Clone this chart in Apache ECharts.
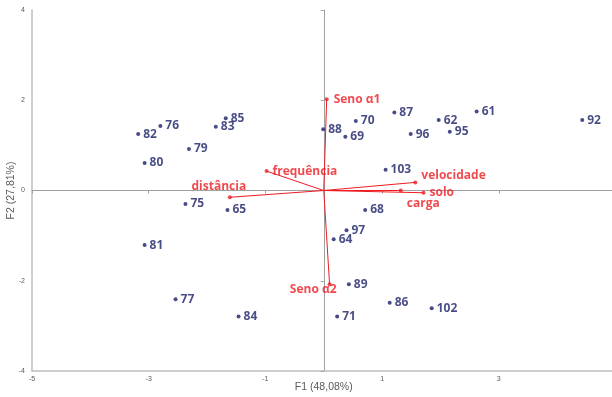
<!DOCTYPE html>
<html>
<head>
<meta charset="utf-8">
<script src="https://cdn.jsdelivr.net/npm/echarts@6/dist/echarts.min.js"></script>
<style>
  html, body { margin: 0; padding: 0; background: #fff; }
  #chart { width: 612px; height: 397px; }
</style>
</head>
<body>
<div id="chart"></div>
<script>
// Observations (factor scores on F1 / F2)
const obsNames = ['61','62','64','65','68','69','70','71','75','76','77','79','80','81',
                  '82','83','84','85','86','87','88','89','92','95','96','97','102','103'];
const obsF1 = [2.62, 1.97, 0.17, -1.65, 0.71, 0.37, 0.55, 0.23, -2.37, -2.80, -2.54, -2.31, -3.07, -3.07,
               -3.18, -1.85, -1.46, -1.68, 1.13, 1.21, -0.01, 0.43, 4.43, 2.16, 1.49, 0.39, 1.85, 1.06];
const obsF2 = [1.75, 1.56, -1.08, -0.43, -0.43, 1.19, 1.54, -2.79, -0.30, 1.43, -2.41, 0.92, 0.61, -1.21,
               1.25, 1.41, -2.79, 1.60, -2.49, 1.73, 1.36, -2.08, 1.56, 1.30, 1.25, -0.88, -2.61, 0.46];

// Variables (loading vectors)
const varNames = ['Seno α1', 'Seno α2', 'distância', 'frequência', 'velocidade', 'solo', 'carga'];
const varF1 = [0.05, 0.10, -1.61, -0.98, 1.57, 1.71, 1.32];
const varF2 = [2.02, -2.08, -0.15, 0.43, 0.18, -0.05, 0.00];

// Axis ticks and tick labels
const xTicks = [-5, -3, -1, 1, 3, 5];
const xTickLabels = [-5, -3, -1, 1, 3];
const yTicks = [-4, -2, 0, 2, 4];

const NAVY = '#1a1f66';
const RED = '#ee1c22';
const FONT = '"Open Sans", "Noto Sans", sans-serif';

// label placement for each variable name
const varLabel = {
  'Seno α1':    { position: 'right', distance: 5 },
  'Seno α2':    { position: 'left', distance: 0, offset: [9, 5] },
  'distância':  { position: 'top', distance: 3, offset: [-11, 0] },
  'frequência': { position: 'right', distance: 4 },
  'velocidade': { position: 'right', distance: 4, offset: [0, -7] },
  'solo':       { position: 'right', distance: 4 },
  'carga':      { position: 'right', distance: 4, offset: [0, 13] }
};

const series = [];

// vector lines from origin
varNames.forEach((n, i) => {
  series.push({
    type: 'line',
    xAxisIndex: 0, yAxisIndex: 0,
    data: [[0, 0], [varF1[i], varF2[i]]],
    showSymbol: false,
    silent: true,
    animation: false,
    lineStyle: { color: RED, width: 1 },
    z: 3
  });
});

// vector endpoints with names
series.push({
  type: 'scatter',
  xAxisIndex: 0, yAxisIndex: 0,
  symbolSize: 4,
  itemStyle: { color: RED },
  animation: false,
  z: 4,
  data: varNames.map((n, i) => ({
    name: n,
    value: [varF1[i], varF2[i]],
    label: Object.assign({
      show: true,
      formatter: '{b}',
      color: RED,
      fontFamily: FONT,
      fontWeight: 'bold',
      fontSize: 12
    }, varLabel[n])
  }))
});

// observations
series.push({
  type: 'scatter',
  xAxisIndex: 0, yAxisIndex: 0,
  symbolSize: 4,
  itemStyle: { color: NAVY },
  animation: false,
  z: 5,
  label: {
    show: true,
    position: 'right',
    distance: 3,
    formatter: '{b}',
    color: NAVY,
    fontFamily: FONT,
    fontWeight: 'bold',
    fontSize: 12
  },
  data: obsNames.map((n, i) => ({ name: n, value: [obsF1[i], obsF2[i]] }))
});

const axisLabelStyle = { fontSize: 7, color: '#595959', fontFamily: 'Liberation Sans, Arial, sans-serif' };
const nameStyle = { fontSize: 10.5, color: '#595959', fontFamily: 'Liberation Sans, Arial, sans-serif' };

const option = {
  backgroundColor: '#ffffff',
  animation: false,
  grid: { left: 32, top: 10, width: 583.5, height: 361, containLabel: false, outerBoundsMode: 'none' },
  xAxis: [
    {
      type: 'value', min: -5, max: 5, interval: 1, position: 'bottom',
      axisLine: { onZero: false, lineStyle: { color: '#bfbfbf', width: 1.5 } },
      axisTick: { show: false },
      axisLabel: Object.assign({ margin: 5, customValues: xTickLabels }, axisLabelStyle),
      splitLine: { show: false },
      name: 'F1 (48,08%)', nameLocation: 'middle', nameGap: 11, nameMoveOverlap: false,
      nameTextStyle: nameStyle
    },
    {
      type: 'value', min: -5, max: 5, interval: 1, position: 'top',
      axisLine: { onZero: true, lineStyle: { color: '#a0a0a0', width: 1 } },
      axisTick: { show: true, inside: true, length: 3, customValues: xTicks, lineStyle: { color: '#a0a0a0' } },
      axisLabel: { show: false },
      splitLine: { show: false }
    }
  ],
  yAxis: [
    {
      type: 'value', min: -4, max: 4, interval: 2, position: 'left',
      axisLine: { show: true, onZero: false, lineStyle: { color: '#bfbfbf', width: 1.5 } },
      axisTick: { show: false },
      axisLabel: Object.assign({ margin: 7, customValues: yTicks }, axisLabelStyle),
      splitLine: { show: false },
      name: 'F2 (27,81%)', nameLocation: 'middle', nameGap: 15, nameRotate: 90, nameMoveOverlap: false,
      nameTextStyle: nameStyle
    },
    {
      type: 'value', min: -4, max: 4, interval: 2, position: 'right',
      axisLine: { show: true, onZero: true, lineStyle: { color: '#a0a0a0', width: 1 } },
      axisTick: { show: true, inside: true, length: 3, lineStyle: { color: '#a0a0a0' } },
      axisLabel: { show: false },
      splitLine: { show: false }
    }
  ],
  series: series
};

const chart = echarts.init(document.getElementById('chart'), null, { renderer: 'canvas' });
chart.setOption(option);
</script>
</body>
</html>
